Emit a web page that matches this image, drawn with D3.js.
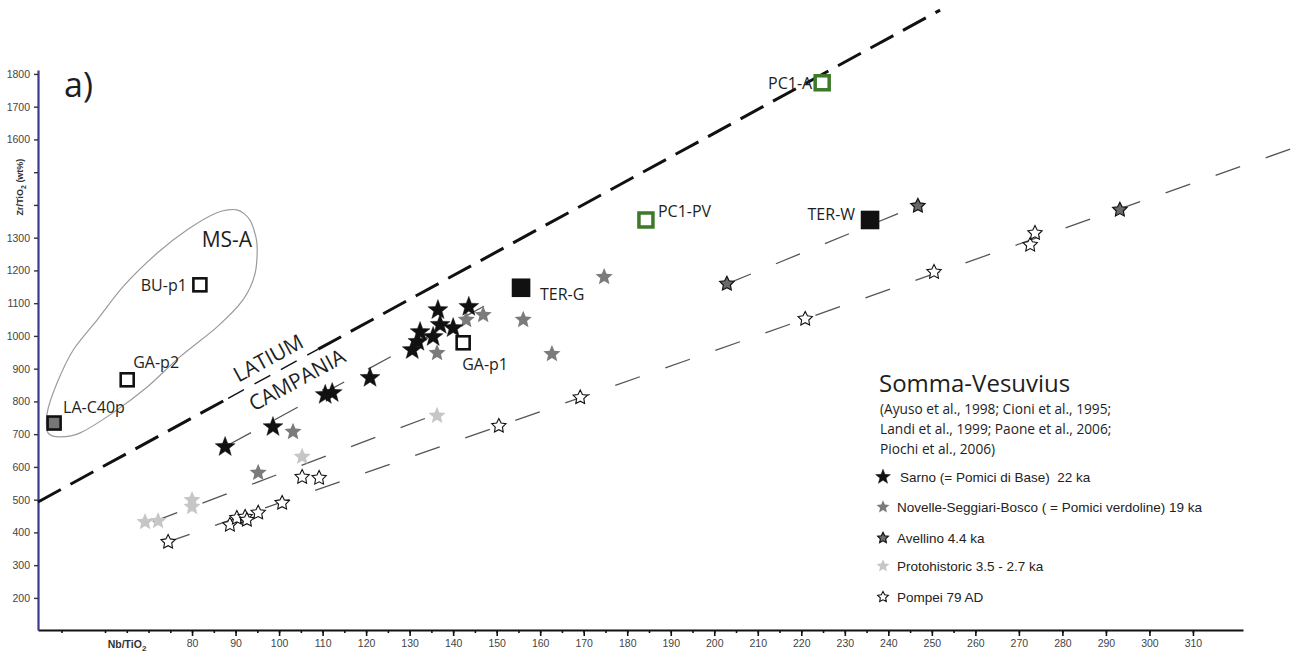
<!DOCTYPE html>
<html>
<head>
<meta charset="utf-8">
<script src="https://cdn.jsdelivr.net/npm/d3@7"></script>
<style>
  html, body { margin: 0; padding: 0; background: #fff; }
  svg { display: block; }
  .lbl { font-family: "Open Sans", sans-serif; fill: #1e1e1e; }
  .tick text { font-family: "Liberation Sans", Arial, sans-serif; font-size: 10.5px; fill: #444; }
  .leg { font-family: "Liberation Sans", Arial, sans-serif; font-size: 13.5px; fill: #222; white-space: pre; }
</style>
</head>
<body>
<svg id="chart" width="1309" height="655"></svg>
<script>
// ---------- data ----------
// Reference samples (squares)
const sampleNames = ["LA-C40p", "GA-p2", "BU-p1", "GA-p1", "TER-G", "PC1-PV", "TER-W", "PC1-A"];
const sampleNb    = [48.3, 65.1, 81.8, 142.3, 155.6, 184.3, 235.8, 224.8];
const sampleZr    = [734, 866, 1156, 979, 1147, 1354, 1354, 1773];

// Somma-Vesuvius eruptions (stars)
const sarnoNb = [87.6, 98.6, 110.6, 112.2, 120.9, 130.6, 131.9, 132.4, 135.4, 137.0, 136.5, 140.0, 143.6];
const sarnoZr = [661, 722, 820, 826, 872, 957, 982, 1012, 997, 1034, 1079, 1024, 1089];

const novelleNb = [95.2, 103.2, 136.3, 143.0, 146.9, 156.1, 162.7, 174.7];
const novelleZr = [582, 707, 948, 1049, 1064, 1049, 945, 1180];

const avellinoNb = [202.9, 246.8, 293.2];
const avellinoZr = [1159, 1397, 1385];

const protoNb = [69.2, 72.2, 80.0, 80.0, 105.3, 136.3];
const protoZr = [432, 435, 499, 478, 631, 756];

const pompeiNb = [74.5, 88.7, 90.3, 92.2, 92.6, 95.2, 100.7, 105.3, 109.2, 150.5, 169.2, 220.9, 250.5, 272.6, 273.7];
const pompeiZr = [371, 423, 444, 447, 438, 460, 490, 569, 566, 725, 812, 1052, 1195, 1278, 1314];

// Trend lines (end points, Nb/TiO2 and Zr/TiO2)
const sarnoTrendNb    = [88.3, 148.5],  sarnoTrendZr    = [667, 1101];
const protoTrendNb    = [71.0, 136.3],  protoTrendZr    = [432, 762];
const avellinoTrendNb = [202.9, 243.8], avellinoTrendZr = [1159, 1382];
const pompeiTrendNb   = [73.8, 335.1],  pompeiTrendZr   = [368, 1583];

// Latium / Campania divide
const divideNb = [44.6, 251.9], divideZr = [493, 1995];
const divideLabelGapNb = [88.3, 109.0];

// MS-A field outline
const msaNb = [46.9, 49.7, 54.3, 61.8, 69.7, 77.2, 85.7, 91.7, 94.5, 94.9, 93.3, 90.3, 85.7, 78.9, 72.0, 64.1, 58.2, 52.7, 49.0, 46.7];
const msaZr = [704, 692, 704, 765, 844, 936, 1027, 1110, 1192, 1284, 1354, 1385, 1376, 1324, 1253, 1150, 1049, 957, 857, 765];

// Axes
const xTickLabels = d3.range(80, 311, 10);
const xMinorTicks = [50, 60, 65, 70, 75].concat(d3.range(80, 256, 5)).concat(d3.range(260, 311, 10));
const yTickValues = d3.range(200, 1801, 100);
const yHiddenLabels = [1400, 1500];

// Legend
const legendTitle = "Somma-Vesuvius";
const legendRefs = ["(Ayuso et al., 1998; Cioni et al., 1995;", "Landi et al., 1999; Paone et al., 2006;", "Piochi et al., 2006)"];
const legendNames = ["Sarno (= Pomici di Base)  22 ka", "Novelle-Seggiari-Bosco ( = Pomici verdoline) 19 ka", "Avellino 4.4 ka", "Protohistoric 3.5 - 2.7 ka", "Pompei 79 AD"];

// ---------- scales ----------
const W = 1309, H = 655;
const x = d3.scaleLinear().domain([44.6, 321.5]).range([38, 1243]);
const y = d3.scaleLinear().domain([102, 1812]).range([630, 70]);

const svg = d3.select("#chart");
svg.append("rect").attr("width", W).attr("height", H).attr("fill", "#fff");

function starPath(R, k) {
  const pts = [];
  for (let i = 0; i < 10; i++) {
    const r = i % 2 ? R * k : R;
    const a = -Math.PI / 2 + i * Math.PI / 5;
    pts.push([r * Math.cos(a), r * Math.sin(a)]);
  }
  return "M" + pts.map(p => p[0].toFixed(2) + "," + p[1].toFixed(2)).join("L") + "Z";
}

const zip = (a, b) => a.map((v, i) => [v, b[i]]);
const line = d3.line().x(d => x(d[0])).y(d => y(d[1]));

// ---------- axes ----------
const xMinor = d3.axisBottom(x).tickValues(xMinorTicks).tickSize(3).tickSizeOuter(0).tickFormat("");
const gxm = svg.append("g").attr("transform", `translate(0,${y.range()[0]})`).call(xMinor);
gxm.select(".domain").remove();
gxm.selectAll(".tick line").attr("stroke", "#111").attr("stroke-width", 1.6);

const xAxis = d3.axisBottom(x).tickValues(xTickLabels).tickSize(6).tickSizeOuter(0).tickPadding(4).tickFormat(d3.format("d"));
const gx = svg.append("g").attr("transform", `translate(0,${y.range()[0]})`).call(xAxis);
gx.select(".domain").attr("stroke", "#111").attr("stroke-width", 2);
gx.selectAll(".tick line").attr("stroke", "#111").attr("stroke-width", 1.6);

const yAxis = d3.axisLeft(y).tickValues(yTickValues).tickSize(4).tickSizeOuter(0).tickPadding(4)
  .tickFormat(d => yHiddenLabels.includes(d) ? "" : d);
const gy = svg.append("g").attr("transform", `translate(${x.range()[0]},0)`).call(yAxis);
gy.select(".domain").attr("stroke", "#3b3a8e").attr("stroke-width", 2.2);
gy.selectAll(".tick line").attr("stroke", "#333").attr("stroke-width", 1.4);

// axis titles
const xt = svg.append("text").attr("x", 127).attr("y", 648).attr("text-anchor", "middle")
  .style("font-family", "'Liberation Sans', Arial, sans-serif").style("font-size", "10.5px")
  .style("font-weight", "bold").attr("fill", "#333");
xt.append("tspan").text("Nb/TiO");
xt.append("tspan").attr("dy", 3).style("font-size", "8px").text("2");

const yt = svg.append("text").attr("transform", "translate(23,187) rotate(-90)").attr("text-anchor", "middle")
  .style("font-family", "'Liberation Sans', Arial, sans-serif").style("font-size", "9px")
  .style("font-weight", "bold").attr("fill", "#333");
yt.append("tspan").text("Zr/TiO");
yt.append("tspan").attr("dy", 3).style("font-size", "7px").text("2");
yt.append("tspan").attr("dy", -3).text(" (wt%)");

// panel letter
svg.append("text").attr("class", "lbl").attr("x", 64).attr("y", 97).style("font-size", "34px").text("a)");

// ---------- MS-A field ----------
svg.append("path").datum(zip(msaNb, msaZr))
  .attr("d", d3.line().x(d => x(d[0])).y(d => y(d[1])).curve(d3.curveCardinalClosed.tension(0.2)))
  .attr("fill", "none").attr("stroke", "#9b9b9b").attr("stroke-width", 1.2);
svg.append("text").attr("class", "lbl").attr("x", x(82.2)).attr("y", y(1270)).style("font-size", "21px").text("MS-A");

// ---------- divide line ----------
const divSlope = (divideZr[1] - divideZr[0]) / (divideNb[1] - divideNb[0]);
const divAt = v => divideZr[0] + (v - divideNb[0]) * divSlope;
const divPieces = [
  { a: divideNb[0], b: divideLabelGapNb[0], w: 3, dash: "26,11" },
  { a: divideLabelGapNb[0], b: divideLabelGapNb[1], w: 1.4, dash: "18,12" },
  { a: divideLabelGapNb[1], b: divideNb[1], w: 3, dash: "26,11" }
];
divPieces.forEach(p => {
  svg.append("path").datum([[p.a, divAt(p.a)], [p.b, divAt(p.b)]])
    .attr("d", line).attr("fill", "none").attr("stroke", "#111")
    .attr("stroke-width", p.w).attr("stroke-dasharray", p.dash);
});
const divAngle = Math.atan2(y(divideZr[1]) - y(divideZr[0]), x(divideNb[1]) - x(divideNb[0])) * 180 / Math.PI;
[["LATIUM", 97.5, 933], ["CAMPANIA", 104.1, 866]].forEach(t => {
  svg.append("text").attr("class", "lbl")
    .attr("transform", `translate(${x(t[1])},${y(t[2])}) rotate(${divAngle})`)
    .attr("text-anchor", "middle").attr("dy", "0.36em").style("font-size", "21px").text(t[0]);
});

// ---------- trend lines ----------
[[sarnoTrendNb, sarnoTrendZr], [protoTrendNb, protoTrendZr], [avellinoTrendNb, avellinoTrendZr], [pompeiTrendNb, pompeiTrendZr]]
  .forEach(t => {
    svg.append("path").datum(zip(t[0], t[1])).attr("d", line)
      .attr("fill", "none").attr("stroke", "#555").attr("stroke-width", 1.3).attr("stroke-dasharray", "26,27");
  });

// ---------- stars ----------
const series = [
  { nb: protoNb,    zr: protoZr,    fill: "#c6c6c6", stroke: "none", sw: 0,   R: 9,   k: 0.45 },
  { nb: novelleNb,  zr: novelleZr,  fill: "#7b7b7b", stroke: "none", sw: 0,   R: 9,   k: 0.45 },
  { nb: pompeiNb,   zr: pompeiZr,   fill: "#fff",    stroke: "#111", sw: 1.1, R: 7.5, k: 0.5 },
  { nb: avellinoNb, zr: avellinoZr, fill: "#6a6a6a", stroke: "#111", sw: 1.2, R: 7.5, k: 0.5 },
  { nb: sarnoNb,    zr: sarnoZr,    fill: "#111",    stroke: "#111", sw: 0.4, R: 10.5, k: 0.42 }
];
series.forEach(s => {
  svg.append("g").selectAll("path").data(zip(s.nb, s.zr)).join("path")
    .attr("transform", d => `translate(${x(d[0])},${y(d[1])})`)
    .attr("d", starPath(s.R, s.k))
    .attr("fill", s.fill).attr("stroke", s.stroke).attr("stroke-width", s.sw).attr("stroke-linejoin", "miter");
});

// ---------- squares ----------
const squareFill   = { "LA-C40p": "#777", "TER-G": "#111", "TER-W": "#111" };
const squareStroke = { "PC1-PV": "#3c7a28", "PC1-A": "#3c7a28" };
const squareSize   = { "TER-G": 16, "TER-W": 16, "PC1-PV": 14, "PC1-A": 14 };
const labelOffset  = {
  "LA-C40p": [9, -10, "start"], "GA-p2": [6, -12, "start"], "BU-p1": [-13, 6, "end"],
  "GA-p1": [-1, 27, "start"], "TER-G": [19, 12, "start"], "PC1-PV": [12, -3, "start"],
  "TER-W": [-15, 0, "end"], "PC1-A": [-10, 6, "end"]
};
sampleNames.forEach((n, i) => {
  const cx = x(sampleNb[i]), cy = y(sampleZr[i]);
  const s = squareSize[n] || 13;
  const green = !!squareStroke[n];
  svg.append("rect").attr("x", cx - s / 2).attr("y", cy - s / 2).attr("width", s).attr("height", s)
    .attr("fill", squareFill[n] || "#fff")
    .attr("stroke", squareStroke[n] || "#111").attr("stroke-width", green ? 3.5 : 2.6);
  const o = labelOffset[n];
  svg.append("text").attr("class", "lbl").attr("x", cx + o[0]).attr("y", cy + o[1])
    .attr("text-anchor", o[2]).style("font-size", "16px").text(n);
});

// ---------- legend ----------
const lg = svg.append("g");
lg.append("text").attr("class", "lbl").attr("x", 879).attr("y", 392).style("font-size", "24px").text(legendTitle);
legendRefs.forEach((t, i) => {
  lg.append("text").attr("class", "lbl").attr("x", 880).attr("y", 414 + i * 20).style("font-size", "13.7px").text(t);
});
const legendRowY = [477, 507, 538, 566, 597];
const legendSeries = [series[4], series[1], series[3], series[0], series[2]];
legendNames.forEach((t, i) => {
  const s = legendSeries[i];
  lg.append("path").attr("transform", `translate(883,${legendRowY[i]})`)
    .attr("d", starPath(s.R * 0.75, s.k)).attr("fill", s.fill).attr("stroke", s.stroke).attr("stroke-width", s.sw);
  lg.append("text").attr("class", "leg").attr("x", i === 0 ? 900 : 897).attr("y", legendRowY[i] + 5).text(t);
});
</script>
</body>
</html>
